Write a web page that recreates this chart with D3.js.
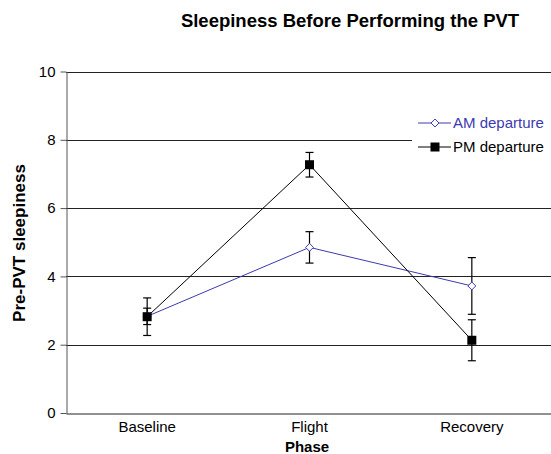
<!DOCTYPE html>
<html><head><meta charset="utf-8">
<script src="https://cdn.jsdelivr.net/npm/d3@7"></script>
<style>body{margin:0;background:#fff}svg{display:block}text{font-family:"Liberation Sans",Arial,sans-serif}</style>
</head><body>
<svg id="c" width="551" height="454"></svg>
<script>
const phases = ["Baseline", "Flight", "Recovery"];
const amMean = [2.83, 4.85, 3.72];
const amErr  = [0.24, 0.46, 0.83];
const pmMean = [2.82, 7.27, 2.13];
const pmErr  = [0.55, 0.36, 0.60];
const yTicks = [0, 2, 4, 6, 8, 10];
const seriesNames = ["AM departure", "PM departure"];

(function () {
const svg = d3.select("#c");
const mL = 66, mR = 553, mT = 71.5, mB = 413;
const x = d3.scaleBand().domain(phases).range([mL, mR]);
const y = d3.scaleLinear().domain([0, 10]).range([mB, mT]);
const cx = d => x(d) + x.bandwidth() / 2;
const FF = "Liberation Sans, Arial, sans-serif";

// gridlines
svg.append("g").selectAll("line").data(yTicks.filter(t => t > 0)).join("line")
  .attr("x1", mL).attr("x2", mR)
  .attr("y1", d => Math.round(y(d)) + 0.5).attr("y2", d => Math.round(y(d)) + 0.5)
  .attr("stroke", "#222").attr("stroke-width", 1);

// y axis
const ya = svg.append("g").attr("transform", `translate(${mL + 0.5},0)`)
  .call(d3.axisLeft(y).tickValues(yTicks).tickSize(6).tickSizeOuter(0).tickPadding(5));
ya.select(".domain").attr("stroke", "#555");
ya.selectAll(".tick line").attr("stroke", "#555");
ya.selectAll(".tick text").attr("font-size", 15).attr("fill", "#000").attr("font-family", FF);

// x axis
const xa = svg.append("g").attr("transform", `translate(0,${Math.round(mB) + 0.5})`)
  .call(d3.axisBottom(x).tickSize(0).tickPadding(8));
xa.select(".domain").attr("stroke", "#222");
xa.selectAll(".tick text").attr("font-size", 15).attr("fill", "#000").attr("font-family", FF);

// title & axis labels
svg.append("text").attr("x", 350).attr("y", 27).attr("text-anchor", "middle")
  .attr("font-size", 18.5).attr("font-weight", "bold").text("Sleepiness Before Performing the PVT");
svg.append("text").attr("transform", "translate(25,243) rotate(-90)").attr("text-anchor", "middle")
  .attr("font-size", 17).attr("font-weight", "bold").text("Pre-PVT sleepiness");
svg.append("text").attr("x", 307).attr("y", 452).attr("text-anchor", "middle")
  .attr("font-size", 15).attr("font-weight", "bold").text("Phase");

const amColor = "#3b3bb0", pmColor = "#000";

function errBars(means, errs) {
  const g = svg.append("g").attr("stroke", "#000").attr("stroke-width", 1.2).attr("fill", "none");
  phases.forEach((p, i) => {
    const xc = cx(p), y1 = y(means[i] + errs[i]), y2 = y(means[i] - errs[i]);
    g.append("line").attr("x1", xc).attr("x2", xc).attr("y1", y1).attr("y2", y2);
    g.append("line").attr("x1", xc - 4).attr("x2", xc + 4).attr("y1", y1).attr("y2", y1);
    g.append("line").attr("x1", xc - 4).attr("x2", xc + 4).attr("y1", y2).attr("y2", y2);
  });
}
errBars(pmMean, pmErr);
errBars(amMean, amErr);

const line = d3.line().x((d, i) => cx(phases[i])).y(d => y(d));
svg.append("path").datum(amMean).attr("d", line).attr("fill", "none").attr("stroke", amColor).attr("stroke-width", 1);
svg.append("path").datum(pmMean).attr("d", line).attr("fill", "none").attr("stroke", pmColor).attr("stroke-width", 1);

const diamond = d3.symbol().type(d3.symbolDiamond2).size(40);
svg.append("g").selectAll("path").data(amMean).join("path")
  .attr("transform", (d, i) => `translate(${cx(phases[i])},${y(d)})`)
  .attr("d", diamond).attr("fill", "#fff").attr("stroke", amColor).attr("stroke-width", 1);
svg.append("g").selectAll("rect").data(pmMean).join("rect")
  .attr("x", (d, i) => cx(phases[i]) - 4.5).attr("y", d => y(d) - 4.5)
  .attr("width", 9).attr("height", 9).attr("fill", "#000");

// legend
const lg = svg.append("g");
lg.append("rect").attr("x", 412).attr("y", 110).attr("width", 150).attr("height", 50).attr("fill", "#fff");
const legendRows = [
  {name: seriesNames[0], color: amColor, y: 123, sym: "diamond"},
  {name: seriesNames[1], color: pmColor, y: 147, sym: "square"}
];
legendRows.forEach(r => {
  lg.append("line").attr("x1", 418).attr("x2", 451).attr("y1", r.y).attr("y2", r.y).attr("stroke", r.color);
  if (r.sym === "diamond") {
    lg.append("path").attr("transform", `translate(435,${r.y})`).attr("d", diamond)
      .attr("fill", "#fff").attr("stroke", r.color);
  } else {
    lg.append("rect").attr("x", 430.5).attr("y", r.y - 4.5).attr("width", 9).attr("height", 9).attr("fill", "#000");
  }
  lg.append("text").attr("x", 453).attr("y", r.y + 5).attr("font-size", 15)
    .attr("fill", r.color === pmColor ? "#000" : r.color).text(r.name);
});
})();
</script>
</body></html>
